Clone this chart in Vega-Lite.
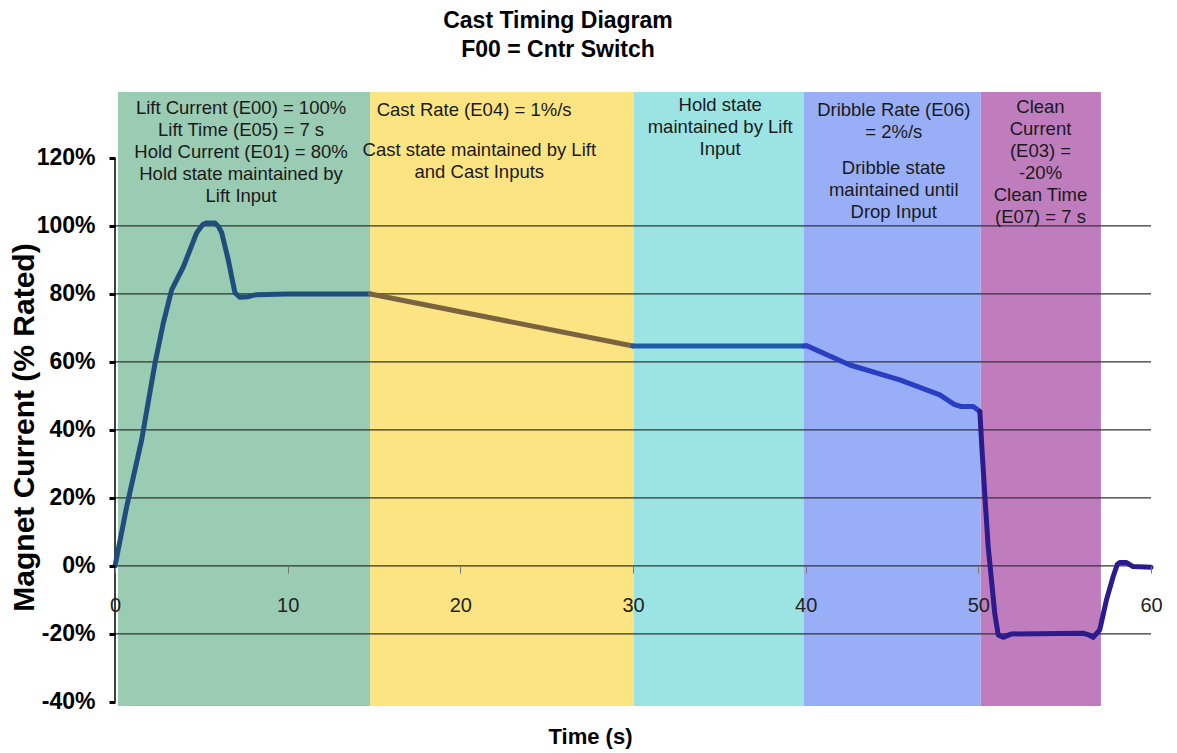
{
  "$schema": "https://vega.github.io/schema/vega-lite/v6.json",
  "width": 1036,
  "height": 614,
  "autosize": "none",
  "padding": {"left": 115, "top": 92, "right": 26, "bottom": 47},
  "background": "white",
  "title": {
    "text": ["Cast Timing Diagram", "F00 = Cntr Switch"],
    "font": "Liberation Sans",
    "fontSize": 23,
    "fontWeight": "bold",
    "color": "#000000",
    "lineHeight": 29,
    "anchor": "middle",
    "frame": "group",
    "dx": -75,
    "offset": 30
  },
  "datasets": {
    "bands": [
      {"t": 0.17, "t2": 14.78, "phase": "Lift"},
      {"t": 14.78, "t2": 30.03, "phase": "Cast"},
      {"t": 30.03, "t2": 39.88, "phase": "Hold"},
      {"t": 39.88, "t2": 50.14, "phase": "Dribble"},
      {"t": 50.14, "t2": 57.1, "phase": "Clean"}
    ],
    "grid": [
      {"v": 100, "t": 0, "t2": 60},
      {"v": 80, "t": 0, "t2": 60},
      {"v": 60, "t": 0, "t2": 60},
      {"v": 40, "t": 0, "t2": 60},
      {"v": 20, "t": 0, "t2": 60},
      {"v": 0, "t": 0, "t2": 60},
      {"v": -20, "t": 0, "t2": 60}
    ],
    "yline": [
      {"t": 0, "v": -40, "v2": 120}
    ],
    "curve": [
      {"t": 0, "v": 0, "seg": "lift"},
      {"t": 0.68, "v": 17.5, "seg": "lift"},
      {"t": 1.54, "v": 37, "seg": "lift"},
      {"t": 2.32, "v": 59.7, "seg": "lift"},
      {"t": 2.8, "v": 71.5, "seg": "lift"},
      {"t": 3.28, "v": 81.2, "seg": "lift"},
      {"t": 3.96, "v": 88, "seg": "lift"},
      {"t": 4.73, "v": 98, "seg": "lift"},
      {"t": 5.1, "v": 100.5, "seg": "lift"},
      {"t": 5.31, "v": 100.9, "seg": "lift"},
      {"t": 5.79, "v": 100.9, "seg": "lift"},
      {"t": 6.0, "v": 99.8, "seg": "lift"},
      {"t": 6.18, "v": 98, "seg": "lift"},
      {"t": 6.56, "v": 90, "seg": "lift"},
      {"t": 6.95, "v": 80.3, "seg": "lift"},
      {"t": 7.24, "v": 79, "seg": "lift"},
      {"t": 7.72, "v": 79.2, "seg": "lift"},
      {"t": 8.2, "v": 79.8, "seg": "lift"},
      {"t": 10, "v": 80, "seg": "lift"},
      {"t": 14.8, "v": 80, "seg": "lift"},
      {"t": 14.8, "v": 80, "seg": "cast"},
      {"t": 30, "v": 64.7, "seg": "cast"},
      {"t": 30, "v": 64.7, "seg": "hold"},
      {"t": 39.9, "v": 64.7, "seg": "hold"},
      {"t": 39.9, "v": 64.7, "seg": "dribble"},
      {"t": 40.05, "v": 64.8, "seg": "dribble"},
      {"t": 42.56, "v": 59.1, "seg": "dribble"},
      {"t": 45.45, "v": 54.7, "seg": "dribble"},
      {"t": 47.77, "v": 50.3, "seg": "dribble"},
      {"t": 48.6, "v": 47.5, "seg": "dribble"},
      {"t": 49.0, "v": 46.9, "seg": "dribble"},
      {"t": 49.7, "v": 46.9, "seg": "dribble"},
      {"t": 50.09, "v": 45.4, "seg": "dribble"},
      {"t": 50.09, "v": 45.4, "seg": "clean"},
      {"t": 50.18, "v": 37, "seg": "clean"},
      {"t": 50.38, "v": 20.4, "seg": "clean"},
      {"t": 50.57, "v": 5.7, "seg": "clean"},
      {"t": 50.76, "v": -4.1, "seg": "clean"},
      {"t": 50.95, "v": -13.9, "seg": "clean"},
      {"t": 51.15, "v": -20.3, "seg": "clean"},
      {"t": 51.44, "v": -21, "seg": "clean"},
      {"t": 51.92, "v": -20, "seg": "clean"},
      {"t": 56.07, "v": -19.8, "seg": "clean"},
      {"t": 56.4, "v": -20.3, "seg": "clean"},
      {"t": 56.65, "v": -21, "seg": "clean"},
      {"t": 57.03, "v": -18.8, "seg": "clean"},
      {"t": 57.42, "v": -10, "seg": "clean"},
      {"t": 57.81, "v": -3.1, "seg": "clean"},
      {"t": 58.05, "v": 0.5, "seg": "clean"},
      {"t": 58.19, "v": 1, "seg": "clean"},
      {"t": 58.58, "v": 1, "seg": "clean"},
      {"t": 58.96, "v": -0.2, "seg": "clean"},
      {"t": 60, "v": -0.4, "seg": "clean"}
    ],
    "notes": [
      {"t": 7.3, "v": 134.7, "note": "Lift Current (E00) = 100%\nLift Time (E05) =  7 s\nHold Current (E01) = 80%\nHold state maintained by\nLift Input"},
      {"t": 20.8, "v": 134.1, "note": "Cast Rate (E04) = 1%/s"},
      {"t": 21.1, "v": 122.4, "note": "Cast state maintained by Lift\nand Cast Inputs"},
      {"t": 35.05, "v": 135.6, "note": "Hold state\nmaintained by Lift\nInput"},
      {"t": 45.1, "v": 134.1, "note": "Dribble Rate (E06)\n= 2%/s"},
      {"t": 45.1, "v": 117.1, "note": "Dribble state\nmaintained until\nDrop Input"},
      {"t": 53.6, "v": 135.0, "note": "Clean\nCurrent\n(E03) =\n-20%\nClean Time\n(E07) = 7 s"}
    ]
  },
  "layer": [
    {
      "data": {"name": "bands"},
      "mark": {"type": "rect"},
      "encoding": {
        "x": {"field": "t", "type": "quantitative", "title": "Time (s)", "scale": {"domain": [0, 60], "nice": false, "zero": false}, "axis": {"zindex": 1, "values": [0, 10, 20, 30, 40, 50, 60]}},
        "x2": {"field": "t2"},
        "fill": {
          "field": "phase",
          "type": "nominal",
          "legend": null,
          "scale": {
            "domain": ["Lift", "Cast", "Hold", "Dribble", "Clean"],
            "range": ["#9ACBB3", "#FDE483", "#9CE4E4", "#98AFF8", "#C07DBE"]
          }
        }
      }
    },
    {
      "data": {"name": "grid"},
      "mark": {"type": "rule", "color": "#333333", "strokeWidth": 1.2},
      "encoding": {
        "x": {"field": "t", "type": "quantitative", "title": "Time (s)"},
        "x2": {"field": "t2"},
        "y": {"field": "v", "type": "quantitative", "title": "Magnet Current (% Rated)", "scale": {"domain": [-41.2, 139.4], "nice": false, "zero": false}, "axis": {"zindex": 1, "values": [-40, -20, 0, 20, 40, 60, 80, 100, 120]}}
      }
    },
    {
      "data": {"name": "yline"},
      "mark": {"type": "rule", "color": "#000000", "strokeWidth": 1.5},
      "encoding": {
        "x": {"field": "t", "type": "quantitative", "title": "Time (s)"},
        "y": {"field": "v", "type": "quantitative", "title": "Magnet Current (% Rated)"},
        "y2": {"field": "v2"}
      }
    },
    {
      "data": {"name": "curve"},
      "mark": {"type": "line", "strokeWidth": 5, "strokeCap": "round", "strokeJoin": "round"},
      "encoding": {
        "x": {"field": "t", "type": "quantitative", "title": "Time (s)"},
        "y": {"field": "v", "type": "quantitative", "title": "Magnet Current (% Rated)"},
        "stroke": {
          "field": "seg",
          "type": "nominal",
          "legend": null,
          "scale": {
            "domain": ["lift", "cast", "hold", "dribble", "clean"],
            "range": ["#1F4E7D", "#7A6440", "#1E5AA8", "#2A3EC4", "#2B1B8C"]
          }
        }
      }
    },
    {
      "data": {"name": "notes"},
      "mark": {"type": "text", "font": "Liberation Sans", "fontSize": 18.5, "lineHeight": 22, "lineBreak": "\n", "align": "center", "baseline": "middle", "color": "#1a1a1a"},
      "encoding": {
        "x": {"field": "t", "type": "quantitative", "title": "Time (s)"},
        "y": {"field": "v", "type": "quantitative", "title": "Magnet Current (% Rated)"},
        "text": {"field": "note", "type": "nominal"}
      }
    }
  ],
  "config": {
    "view": {"stroke": null},
    "font": "Liberation Sans",
    "axisX": {
      "offset": -140,
      "domain": false,
      "grid": false,
      "zindex": 1,
      "tickSize": 7,
      "tickColor": "#777777",
      "tickWidth": 1,
      "labelFont": "Liberation Sans",
      "labelFontSize": 20,
      "labelColor": "#222222",
      "labelPadding": 22,
      "labelFlush": false,
      "titleFont": "Liberation Sans",
      "titleFontSize": 22,
      "titleFontWeight": "bold",
      "titleColor": "#000000",
      "titleX": 475,
      "titleY": 177,
      "titleAlign": "center",
      "titleBaseline": "alphabetic"
    },
    "axisY": {
      "domain": false,
      "grid": false,
      "zindex": 1,
      "tickSize": 6,
      "tickWidth": 3,
      "tickColor": "#000000",
      "labelFont": "Liberation Sans",
      "labelFontSize": 23,
      "labelFontWeight": "bold",
      "labelColor": "#000000",
      "labelPadding": 14,
      "labelExpr": "toString(datum.value) + '%'",
      "titleFont": "Liberation Sans",
      "titleFontSize": 30,
      "titleFontWeight": "bold",
      "titleColor": "#000000",
      "titleX": -82,
      "titleY": 335,
      "titleAngle": -90,
      "titleAlign": "center",
      "titleBaseline": "alphabetic"
    }
  }
}
